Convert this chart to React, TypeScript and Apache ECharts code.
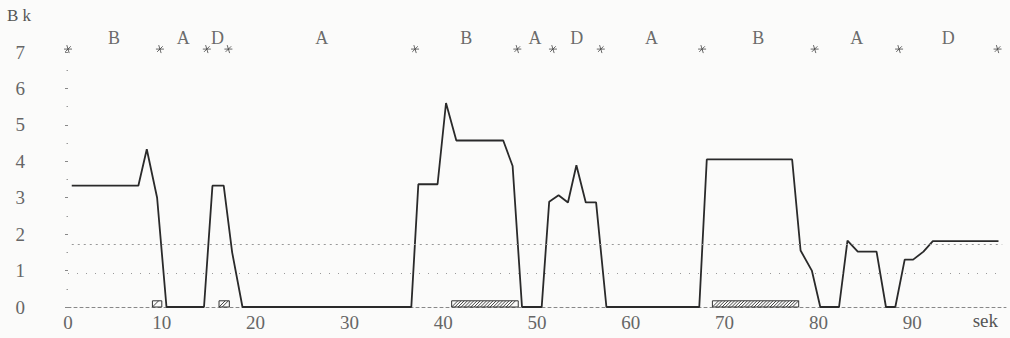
import React, { useEffect, useRef } from 'react';
import * as echarts from 'echarts';

// Measured curve (time in seconds, value in Bk)
const lineTimes = [0.4, 7.5, 8.4, 9.5, 10.5, 14.5, 15.4, 16.6, 17.5, 18.6, 36.6, 37.35, 39.4, 40.3, 41.4, 46.4, 47.4, 48.4, 50.5, 51.3, 52.3, 53.3, 54.2, 55.2, 56.3, 57.4, 67.3, 68.1, 77.2, 78.1, 79.3, 80.2, 82.2, 83.1, 84.2, 86.2, 87.2, 88.2, 89.2, 90.1, 91.2, 92.2, 99.2];
const lineValues = [3.33, 3.33, 4.33, 3.0, 0, 0, 3.33, 3.33, 1.5, 0, 0, 3.37, 3.37, 5.6, 4.57, 4.57, 3.87, 0, 0, 2.89, 3.07, 2.87, 3.89, 2.87, 2.87, 0, 0, 4.05, 4.05, 1.55, 1.0, 0, 0, 1.82, 1.52, 1.52, 0, 0, 1.3, 1.3, 1.52, 1.81, 1.81];

// Phase boundaries (asterisks) and phase letters between them
const phaseBounds = [0, 9.8, 14.8, 17.1, 37.0, 47.9, 51.7, 56.8, 67.6, 79.6, 88.6, 99.1];
const phaseLabels = ['B', 'A', 'D', 'A', 'B', 'A', 'D', 'A', 'B', 'A', 'D'];
const markerLevel = 7.08;
const letterLevel = 7.38;

// Hatched intervals on the baseline
const hatchStart = [9.0, 16.1, 40.9, 68.7];
const hatchEnd = [10.0, 17.2, 48.0, 77.9];
const hatchHeight = 0.17;

// Reference levels
const refUpper = 1.72;
const refLower = 0.92;

const xMin = 0;
const xMax = 100;
const xInterval = 10;
const yMin = 0;
const yMax = 7;
const yInterval = 1;

const FONT = "'Liberation Serif', 'DejaVu Serif', serif";

export default function App() {
  const ref = useRef<HTMLDivElement>(null);

  useEffect(() => {
    if (!ref.current) return;
    const chart = echarts.init(ref.current, null, { renderer: 'svg' });

    const lineData = lineTimes.map((t, i) => [t, lineValues[i]]);
    const starData = phaseBounds.map((t) => [t, markerLevel]);
    const letterData = phaseLabels.map((_, i) => [(phaseBounds[i] + phaseBounds[i + 1]) / 2, letterLevel]);
    const hatchData = hatchStart.map((s, i) => [s, hatchEnd[i], hatchHeight]);

    chart.setOption({
      animation: false,
      backgroundColor: '#fbfbfa',
      grid: { left: 68, right: 4, top: 52, bottom: 31, containLabel: false },
      xAxis: {
        type: 'value',
        min: xMin,
        max: xMax,
        interval: xInterval,
        axisLine: { show: true, lineStyle: { color: '#888', width: 1, type: [3, 3] } },
        axisTick: { show: false },
        splitLine: { show: false },
        axisLabel: {
          showMaxLabel: false,
          margin: 6,
          color: '#666',
          fontFamily: FONT,
          fontSize: 19,
        },
      },
      yAxis: {
        type: 'value',
        min: yMin,
        max: yMax,
        interval: yInterval,
        offset: 6,
        axisLine: { show: false },
        axisTick: { show: true, length: 3, lineStyle: { color: '#888', width: 1 } },
        minorTick: { show: true, splitNumber: 2, length: 1.5, lineStyle: { color: '#999', width: 1 } },
        splitLine: { show: false },
        axisLabel: {
          margin: 37,
          color: '#666',
          fontFamily: FONT,
          fontSize: 19,
        },
      },
      graphic: [
        { type: 'text', left: 7, top: 7, style: { text: 'B k', fill: '#555', font: `17px ${FONT}` } },
        { type: 'text', right: 12, top: 311, style: { text: 'sek', fill: '#555', font: `19px ${FONT}` } },
      ],
      series: [
        {
          type: 'line',
          data: lineData,
          symbol: 'none',
          lineStyle: { color: '#2a2a2a', width: 1.8 },
          z: 3,
          markLine: {
            silent: true,
            symbol: 'none',
            label: { show: false },
            data: [
              [
                { coord: [0.4, refUpper], lineStyle: { color: '#999', width: 1, type: [2, 4] } },
                { coord: [99.6, refUpper] },
              ],
              [
                { coord: [0, refLower], lineStyle: { color: '#999', width: 1, type: [1, 8] } },
                { coord: [99.6, refLower] },
              ],
            ],
          },
        },
        {
          type: 'custom',
          data: hatchData,
          encode: { x: [0, 1], y: 2 },
          z: 2,
          renderItem: (params: any, api: any) => {
            const s = api.value(0);
            const e = api.value(1);
            const h = api.value(2);
            const p0 = api.coord([s, 0]);
            const p1 = api.coord([e, h]);
            const x0 = p0[0];
            const x1 = p1[0];
            const yb = p0[1];
            const yt = p1[1];
            const hh = yb - yt;
            const children: any[] = [
              {
                type: 'rect',
                shape: { x: x0, y: yt, width: x1 - x0, height: hh },
                style: { fill: 'none', stroke: '#333', lineWidth: 1 },
              },
            ];
            for (let x = x0; x + hh <= x1 + 0.01; x += 3.2) {
              children.push({
                type: 'line',
                shape: { x1: x, y1: yb, x2: x + hh, y2: yt },
                style: { stroke: '#333', lineWidth: 0.9 },
              });
            }
            return { type: 'group', children };
          },
        },
        {
          type: 'scatter',
          data: starData,
          clip: false,
          symbol: 'path://M0 5 L10 5 M3.5 0 L6.5 10 M1.5 8.5 L8.5 1.5',
          symbolSize: 8,
          itemStyle: { color: 'transparent', borderColor: '#444', borderWidth: 1 },
          z: 4,
        },
        {
          type: 'scatter',
          data: letterData,
          clip: false,
          symbolSize: 1,
          itemStyle: { color: 'transparent' },
          label: {
            show: true,
            position: 'inside',
            formatter: (p: any) => phaseLabels[p.dataIndex],
            color: '#444',
            fontFamily: FONT,
            fontSize: 18,
          },
          z: 4,
        },
      ],
    });

    return () => chart.dispose();
  }, []);

  return <div ref={ref} style={{ position: 'fixed', left: 0, top: 0, width: 1010, height: 338 }} />;
}
